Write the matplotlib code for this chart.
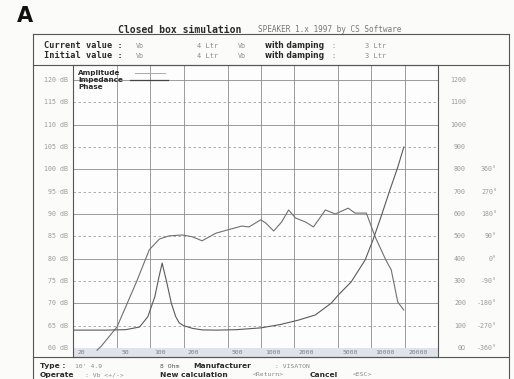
import matplotlib
matplotlib.use('Agg')
import matplotlib.pyplot as plt
import matplotlib.transforms as mtrans
from matplotlib.ticker import NullLocator

W, H = 514, 379

# amplitude response (Hz, dB)
amp_freq = [33, 36, 50, 75, 98, 121, 148, 195, 240, 294, 392, 494, 673, 780, 998, 1105,
            1306, 1540, 1782, 2060, 2540, 2988, 3460, 3830, 4720, 6166, 7110, 9000, 9710,
            10800, 13500, 15100, 17300, 19600]
amp_db = [59.5, 60.4, 64.7, 74.8, 82.0, 84.4, 85.1, 85.3, 84.9, 84.0, 85.7, 86.4, 87.3, 87.1,
          88.7, 88.0, 86.2, 88.2, 90.9, 89.1, 88.2, 87.1, 89.3, 90.9, 90.0, 91.3, 90.2, 90.2,
          88.0, 84.9, 79.7, 77.5, 70.3, 68.5]

# impedance curve (Hz, right scale)
imp_freq = [20, 40, 60, 80, 95, 110, 120, 128, 140, 155, 170, 183, 200, 240, 294, 400, 600,
            1000, 1500, 2192, 3112, 4337, 5012, 6560, 8770, 10330, 12200, 14700, 17340, 19640]
imp_val = [80, 80, 82, 94, 140, 230, 320, 380, 300, 200, 140, 112, 100, 88, 81, 80, 82,
           90, 105, 125, 148, 201, 237, 296, 394, 484, 587, 708, 811, 900]

db_ticks = [120, 115, 110, 105, 100, 95, 90, 85, 80, 75, 70, 65, 60]
ohm_ticks = [1200, 1100, 1000, 900, 800, 700, 600, 500, 400, 300, 200, 100, 0]
ohm_labels = ['1200', '1100', '1000', '900', '800', '700', '600', '500', '400', '300', '200', '100', '0\u03a9']
phase_labels = ['360\u00b0', '270\u00b0', '180\u00b0', '90\u00b0', '0\u00b0', '-90\u00b0', '-180\u00b0', '-270\u00b0', '-360\u00b0']
freq_ticks = [20, 50, 100, 200, 500, 1000, 2000, 5000, 10000, 20000]


def fx(x):
    return x / W


def fy(y):
    return 1 - y / H


fig = plt.figure(figsize=(W / 100, H / 100), dpi=100)
fig.patch.set_facecolor('#fbfbfa')

mono = 'DejaVu Sans Mono'
dark = '#2a2a2a'
light = '#8a8a8a'

# plot region: x 73..438, y 65..357
ax = fig.add_axes([fx(73), fy(357), fx(438) - fx(73), fy(65) - fy(357)])
ax.set_facecolor('#fdfdfd')
ax.set_xscale('log')
ax.set_xlim(20, 40000)
ax.set_ylim(57.98, 123.36)

ax2 = ax.twinx()
ax2.set_ylim((57.98 - 60) * 20, (123.36 - 60) * 20)

for a in (ax, ax2):
    a.xaxis.set_major_locator(NullLocator())
    a.xaxis.set_minor_locator(NullLocator())
    a.yaxis.set_major_locator(NullLocator())
    a.yaxis.set_minor_locator(NullLocator())
for s in ax.spines.values():
    s.set_color('#555555')
    s.set_linewidth(0.8)
for s in ax2.spines.values():
    s.set_visible(False)

# grid
for v in db_ticks:
    if v % 10 == 0:
        ax.axhline(v, color='#8c8c8c', lw=0.6, zorder=1)
    else:
        ax.axhline(v, color='#a0a0a0', lw=0.6, ls=(0, (3, 3)), zorder=1)
for f in freq_ticks[1:]:
    ax.axvline(f, color='#8c8c8c', lw=0.6, zorder=1)

# bottom label strip
ax.axhspan(57.98, 60, color='#dfe3ea', zorder=1.5, lw=0)
for f in freq_ticks:
    ax.annotate(str(f), (f, 58.9), xytext=(3, 0), textcoords='offset points',
                ha='left', va='center', fontsize=4.6, family=mono, color='#7a7f88', zorder=3)

ax.plot(amp_freq, amp_db, color='#707070', lw=0.8, zorder=2)
ax2.plot(imp_freq, imp_val, color='#5a5a5a', lw=0.8, zorder=2)

# left and right labels
tl = mtrans.blended_transform_factory(fig.transFigure, ax.transData)
for v in db_ticks:
    fig.text(fx(68), v, '%d dB' % v, transform=tl, ha='right', va='center',
             fontsize=4.8, family=mono, color='#9a9a9a')
tr = mtrans.blended_transform_factory(fig.transFigure, ax2.transData)
for v, lab in zip(ohm_ticks, ohm_labels):
    fig.text(fx(466), v, lab, transform=tr, ha='right', va='center',
             fontsize=4.8, family=mono, color='#9a9a9a')
for v, lab in zip(ohm_ticks[4:], phase_labels):
    fig.text(fx(497), v, lab, transform=tr, ha='right', va='center',
             fontsize=4.8, family=mono, color='#9a9a9a')

# legend
fig.text(fx(78), fy(73), 'Amplitude', fontsize=5.2, weight='bold', color=dark, va='center')
fig.text(fx(78), fy(80), 'Impedance', fontsize=5.2, weight='bold', color=dark, va='center')
fig.text(fx(78), fy(87), 'Phase', fontsize=5.2, weight='bold', color=dark, va='center')
fig.add_artist(plt.Line2D([fx(135), fx(165)], [fy(73), fy(73)], color='#aaaaaa', lw=0.7))
fig.add_artist(plt.Line2D([fx(130), fx(168)], [fy(80), fy(80)], color='#444444', lw=0.9))

# frame lines
def hline(y, x0, x1, lw=0.8):
    fig.add_artist(plt.Line2D([fx(x0), fx(x1)], [fy(y), fy(y)], color='#555555', lw=lw))


def vline(x, y0, y1, lw=0.8):
    fig.add_artist(plt.Line2D([fx(x), fx(x)], [fy(y0), fy(y1)], color='#555555', lw=lw))


hline(34, 33, 509)
hline(65, 33, 509)
hline(357, 33, 509)
vline(33, 34, 379)
vline(509, 34, 379)

# title and "A"
fig.text(fx(17), fy(16), 'A', fontsize=15, weight='bold', color='#111111', va='center')
fig.text(fx(118), fy(30), 'Closed box simulation', fontsize=7, weight='bold', family=mono,
         color=dark, va='center')
fig.text(fx(258), fy(30), 'SPEAKER 1.x 1997 by CS Software', fontsize=5.6, family=mono,
         color='#777777', va='center')

# header
fig.text(fx(123), fy(46), 'Current value :', fontsize=6.2, weight='bold', family=mono,
         color=dark, va='center', ha='right')
fig.text(fx(123), fy(56), 'Initial value :', fontsize=6.2, weight='bold', family=mono,
         color=dark, va='center', ha='right')
for y in (46, 56):
    fig.text(fx(136), fy(y), 'Vb', fontsize=4.8, family=mono, color=light, va='center')
    fig.text(fx(197), fy(y), '4 Ltr', fontsize=5, family=mono, color=light, va='center')
    fig.text(fx(238), fy(y), 'Vb', fontsize=4.8, family=mono, color=light, va='center')
    fig.text(fx(265), fy(y), 'with damping', fontsize=5.5, weight='bold', color=dark, va='center')
    fig.text(fx(331), fy(y), ':', fontsize=5, family=mono, color=light, va='center')
    fig.text(fx(365), fy(y), '3 Ltr', fontsize=5, family=mono, color=light, va='center')

# footer
fs_b = 5.4
fs_m = 4.6
fig.text(fx(40), fy(366), 'Type :', fontsize=fs_b, weight='bold', color=dark, va='center')
fig.text(fx(75), fy(366), "10' 4.9", fontsize=fs_m, family=mono, color=light, va='center')
fig.text(fx(160), fy(366), '8 Ohm', fontsize=fs_m, family=mono, color='#555555', va='center')
fig.text(fx(193), fy(366), 'Manufacturer', fontsize=fs_b, weight='bold', color=dark, va='center')
fig.text(fx(275), fy(366), ': VISATON', fontsize=fs_m, family=mono, color=light, va='center')
fig.text(fx(40), fy(375), 'Operate', fontsize=fs_b, weight='bold', color=dark, va='center')
fig.text(fx(85), fy(375), ': Vb <+/->', fontsize=fs_m, family=mono, color=light, va='center')
fig.text(fx(160), fy(375), 'New calculation', fontsize=fs_b, weight='bold', color=dark, va='center')
fig.text(fx(253), fy(375), '<Return>', fontsize=fs_m, family=mono, color=light, va='center')
fig.text(fx(310), fy(375), 'Cancel', fontsize=fs_b, weight='bold', color=dark, va='center')
fig.text(fx(353), fy(375), '<ESC>', fontsize=fs_m, family=mono, color=light, va='center')

fig.savefig('out.png', dpi=100, facecolor=fig.get_facecolor())
